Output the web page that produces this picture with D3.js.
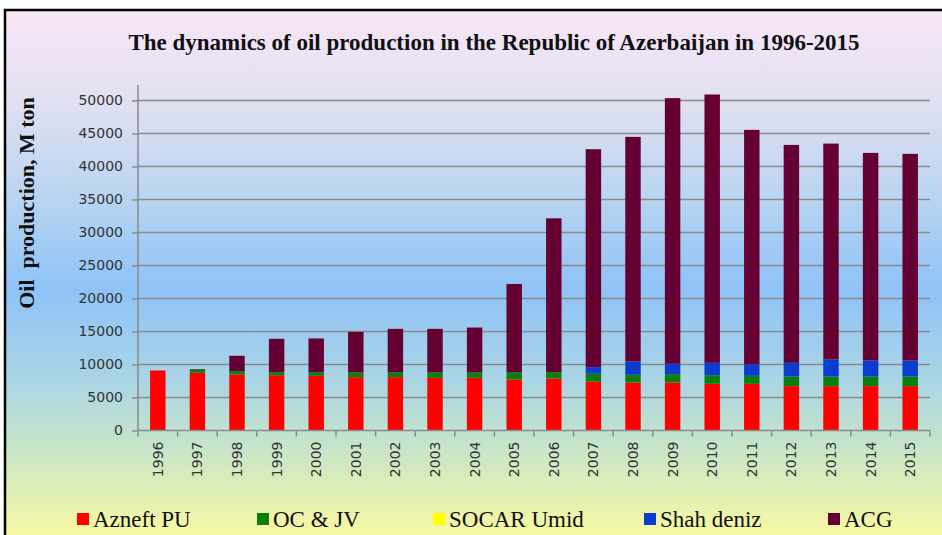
<!DOCTYPE html>
<html>
<head>
<meta charset="utf-8">
<script src="https://d3js.org/d3.v7.min.js"></script>
<style>
  body { margin: 0; background: #ffffff; }
  #canvas { width: 942px; height: 535px; }
</style>
</head>
<body>
<div id="canvas"></div>
<script>
// data (thousand tons)
var years = ["1996","1997","1998","1999","2000","2001","2002","2003","2004","2005",
             "2006","2007","2008","2009","2010","2011","2012","2013","2014","2015"];
var azneftPU  = [9100, 8740, 8480, 8380, 8280, 8080, 8080, 7980, 7980, 7730,
                 7880, 7420, 7270, 7270, 7070, 7070, 6720, 6720, 6720, 6720];
var ocJV      = [0, 450, 510, 460, 510, 710, 710, 810, 810, 1060,
                 960, 1170, 1170, 1270, 1310, 1210, 1460, 1460, 1460, 1460];
var socarUmid = [0, 0, 0, 0, 0, 0, 0, 0, 0, 0,
                 0, 0, 0, 0, 0, 0, 0, 0, 0, 0];
var shahDeniz = [0, 0, 0, 0, 0, 0, 0, 0, 0, 0,
                 0, 1010, 2010, 1560, 1870, 1770, 2070, 2580, 2420, 2420];
var acg       = [0, 100, 2330, 5060, 5160, 6160, 6610, 6610, 6810, 13410,
                 23310, 33020, 34040, 40260, 40660, 35500, 33020, 32710, 31460, 31310];
var seriesNames = ["Azneft PU", "OC & JV", "SOCAR Umid", "Shah deniz", "ACG"];
var seriesColors = ["#ff0000", "#0a800a", "#ffff00", "#0a3ccf", "#650032"];
var yTicks = [0, 5000, 10000, 15000, 20000, 25000, 30000, 35000, 40000, 45000, 50000];

var title = "The dynamics of oil production in the Republic of Azerbaijan in 1996-2015";
var yTitle = "Oil\u00a0\u00a0production, M ton";

var width = 942, height = 535;
var serif = "'Liberation Serif', 'Times New Roman', serif";

var svg = d3.select("#canvas")
  .append("svg")
  .attr("width", width)
  .attr("height", height);

// background gradient like the office chart
var grad = svg.append("defs").append("linearGradient")
  .attr("id", "bg")
  .attr("gradientUnits", "userSpaceOnUse")
  .attr("x1", 0).attr("y1", 10).attr("x2", 0).attr("y2", 535);
[[0, "#f8e6f6"], [0.17, "#e2e0f2"], [0.36, "#b8d4f1"], [0.53, "#8fc3f7"],
 [0.7, "#a9d4e6"], [0.84, "#c9e6c8"], [1, "#f7f8a4"]].forEach(function(s) {
  grad.append("stop").attr("offset", s[0]).attr("stop-color", s[1]);
});

svg.append("rect")
  .attr("x", 5).attr("y", 10)
  .attr("width", width - 5).attr("height", height - 10)
  .style("fill", "url(#bg)");

// border (top and left visible)
svg.append("path")
  .attr("d", "M5,535 L5,10 L942,10")
  .style("fill", "none")
  .style("stroke", "#000")
  .style("stroke-width", 2.5);

// scales
var x = d3.scaleBand()
  .domain(years)
  .range([138, 930])
  .paddingInner(0.61)
  .paddingOuter(0.305);

var y = d3.scaleLinear()
  .domain([0, 50000])
  .range([430.5, 100.5]);

// gridlines
svg.append("g")
  .selectAll("line")
  .data(yTicks.slice(1))
  .enter()
  .append("line")
    .attr("x1", 138).attr("x2", 930)
    .attr("y1", function(d) { return y(d); })
    .attr("y2", function(d) { return y(d); })
    .style("stroke", "#8a8a8a")
    .style("stroke-width", 1.5);

// stacked bars
var table = years.map(function(yr, i) {
  return {year: yr, "Azneft PU": azneftPU[i], "OC & JV": ocJV[i], "SOCAR Umid": socarUmid[i],
          "Shah deniz": shahDeniz[i], "ACG": acg[i]};
});
var stacked = d3.stack().keys(seriesNames)(table);

svg.append("g")
  .selectAll("g")
  .data(stacked)
  .enter()
  .append("g")
    .style("fill", function(d, i) { return seriesColors[i]; })
  .selectAll("rect")
  .data(function(d) { return d; })
  .enter()
  .append("rect")
    .attr("x", function(d) { return x(d.data.year); })
    .attr("width", x.bandwidth())
    .attr("y", function(d) { return y(d[1]); })
    .attr("height", function(d) { return y(d[0]) - y(d[1]); });

// Y axis
var yAxis = svg.append("g")
  .attr("transform", "translate(138,0)")
  .call(d3.axisLeft(y).tickValues(yTicks).tickFormat(d3.format("d")).tickSize(6).tickPadding(9));
yAxis.select(".domain").attr("d", "M0,85V430.5").style("stroke", "#8a8a8a").style("stroke-width", 1.5);
yAxis.selectAll(".tick line").style("stroke", "#8a8a8a").style("stroke-width", 1.5);
yAxis.selectAll("text")
  .style("font-family", "DejaVu Sans")
  .style("font-size", "14px")
  .style("fill", "#333");

// X axis with ticks between categories
var xAxis = svg.append("g")
  .attr("transform", "translate(0,430.5)");
xAxis.append("line")
  .attr("x1", 138).attr("x2", 930)
  .style("stroke", "#8a8a8a").style("stroke-width", 1.5);
xAxis.selectAll(".sep")
  .data(years.concat(["end"]))
  .enter()
  .append("line")
    .attr("class", "sep")
    .attr("x1", function(d, i) { return 138 + i * x.step(); })
    .attr("x2", function(d, i) { return 138 + i * x.step(); })
    .attr("y1", 0).attr("y2", 6)
    .style("stroke", "#8a8a8a").style("stroke-width", 1.5);
xAxis.selectAll("text")
  .data(years)
  .enter()
  .append("text")
    .attr("transform", function(d) {
      return "translate(" + (x(d) + x.bandwidth() / 2 + 5) + ",11) rotate(-90)";
    })
    .attr("text-anchor", "end")
    .style("font-family", "DejaVu Sans")
    .style("font-size", "14px")
    .style("fill", "#333")
    .text(function(d) { return d; });

// title
svg.append("text")
  .attr("x", 494)
  .attr("y", 50)
  .attr("text-anchor", "middle")
  .style("font-family", serif)
  .style("font-weight", "bold")
  .style("font-size", "23px")
  .style("fill", "#111")
  .text(title);

// y axis title
svg.append("text")
  .attr("transform", "translate(34,203) rotate(-90)")
  .attr("text-anchor", "middle")
  .style("font-family", serif)
  .style("font-weight", "bold")
  .style("font-size", "22px")
  .style("fill", "#111")
  .text(yTitle);

// legend
var legendX = [77, 257, 433, 644, 828];
var legend = svg.append("g")
  .selectAll("g")
  .data(seriesNames)
  .enter()
  .append("g")
    .attr("transform", function(d, i) { return "translate(" + legendX[i] + ",0)"; });
legend.append("rect")
  .attr("x", 0).attr("y", 513)
  .attr("width", 12).attr("height", 12)
  .style("fill", function(d, i) { return seriesColors[i]; });
legend.append("text")
  .attr("x", 16).attr("y", 527)
  .style("font-family", serif)
  .style("font-size", "23px")
  .style("fill", "#111")
  .text(function(d) { return d; });
</script>
</body>
</html>
